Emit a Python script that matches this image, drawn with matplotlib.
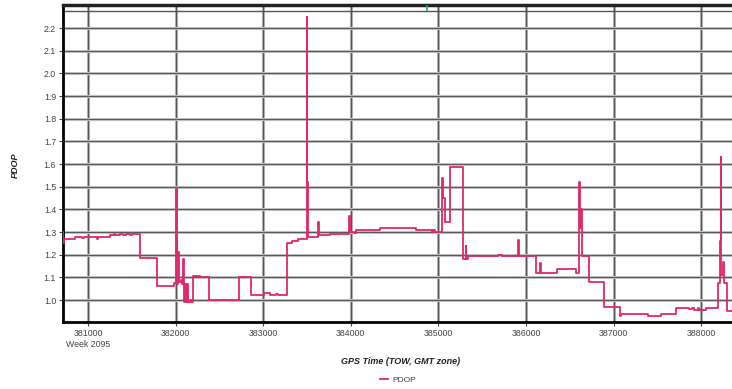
import matplotlib
matplotlib.use("Agg")
import matplotlib.pyplot as plt

# GPS time of week (s) where each PDOP step starts
tow = [380715, 380720, 380726, 380852, 380930, 380960, 381100, 381110, 381251, 381300,
       381310, 381365, 381400, 381430, 381480, 381500, 381594, 381788, 381982, 382000,
       382005, 382016, 382027, 382040, 382060, 382075, 382085, 382096, 382110, 382120,
       382130, 382140, 382160, 382175, 382199, 382279, 382381, 382724, 382861, 383009,
       383078, 383150, 383170, 383272, 383329, 383397, 383500, 383505, 383515, 383626,
       383637, 383763, 383979, 383991, 384040, 384060, 384333, 384744, 384927, 384940,
       384961, 385041, 385055, 385075, 385133, 385281, 385310, 385320, 385338, 385681,
       385726, 385905, 385915, 386115, 386160, 386170, 386354, 386571, 386610, 386620,
       386630, 386640, 386719, 386891, 387073, 387085, 387393, 387541, 387713, 387861,
       387900, 387920, 387960, 387980, 388055, 388192, 388210, 388222, 388232, 388245,
       388260, 388295, 388360]
pdop = [1.30, 1.25, 1.27, 1.28, 1.275, 1.28, 1.27, 1.28, 1.285, 1.29,
        1.285, 1.29, 1.285, 1.29, 1.285, 1.29, 1.185, 1.06, 1.075, 1.15,
        1.49, 1.07, 1.21, 1.08, 1.09, 1.07, 1.18, 0.99, 1.07, 0.99,
        1.07, 0.99, 1.00, 0.99, 1.105, 1.10, 1.00, 1.10, 1.02, 1.03,
        1.02, 1.025, 1.02, 1.25, 1.26, 1.27, 2.25, 1.52, 1.28, 1.345,
        1.285, 1.29, 1.37, 1.30, 1.295, 1.31, 1.32, 1.31, 1.30, 1.31,
        1.30, 1.54, 1.45, 1.345, 1.585, 1.18, 1.24, 1.18, 1.195, 1.20,
        1.195, 1.265, 1.195, 1.12, 1.165, 1.12, 1.135, 1.12, 1.52, 1.32,
        1.40, 1.195, 1.08, 0.97, 0.93, 0.94, 0.93, 0.94, 0.965, 0.96,
        0.965, 0.955, 0.965, 0.955, 0.965, 1.075, 1.26, 1.63, 1.11, 1.17,
        1.075, 0.95, 0.95]

x_ticks = [381000, 382000, 383000, 384000, 385000, 386000, 387000, 388000]
y_ticks = [1.0, 1.1, 1.2, 1.3, 1.4, 1.5, 1.6, 1.7, 1.8, 1.9, 2.0, 2.1, 2.2]
week_label = "Week 2095"
cursor_tow = 384870

line_color = "#e0286a"
font = "Liberation Sans"

fig = plt.figure(figsize=(7.32, 3.89), dpi=100)
ax = fig.add_axes([63 / 732, 1 - 322 / 389, 1 - 63 / 732, 317 / 389])

ax.set_xlim(380715, 388352)
ax.set_ylim(0.903, 2.302)

# grid: soft grey halo with a darker core, like the source screenshot
for t in x_ticks:
    ax.axvline(t, color="#bbbbbb", lw=2.2, zorder=1)
    ax.axvline(t, color="#555555", lw=0.9, zorder=1)
for v in y_ticks:
    ax.axhline(v, color="#c4c4c4", lw=2.2, zorder=1)
    ax.axhline(v, color="#5a5a5a", lw=0.8, zorder=1)
ax.axhline(2.276, color="#555555", lw=1.0, zorder=1)

ax.plot(tow, pdop, drawstyle="steps-post", color=line_color, lw=1.3, zorder=3,
        label="PDOP")

# small green cursor mark on the top frame
ax.plot([cursor_tow, cursor_tow], [2.278, 2.298], color="#20b070", lw=1.2,
        zorder=4, clip_on=False)

ax.spines["right"].set_visible(False)
ax.spines["left"].set_linewidth(2)
ax.spines["bottom"].set_linewidth(2)
ax.spines["top"].set_linewidth(2.5)
ax.spines["top"].set_color("#222222")

ax.set_xticks(x_ticks)
ax.set_xticklabels([str(t) for t in x_ticks])
ax.set_yticks(y_ticks)
ax.set_yticklabels(["%.1f" % v for v in y_ticks])
ax.tick_params(axis="both", labelsize=6.3, colors="#444444", length=3, width=0.8, pad=2)
for lab in ax.get_xticklabels() + ax.get_yticklabels():
    lab.set_fontfamily(font)

ax.text(x_ticks[0], -0.058, week_label, transform=ax.get_xaxis_transform(),
        ha="center", va="top", fontsize=6.3, color="#444444", family=font)

fig.text(15 / 732, 1 - 165 / 389, "PDOP", rotation=90, ha="center", va="center",
         fontsize=6.5, style="italic", weight="bold", color="#222222", family=font)
fig.text(401 / 732, 1 - 362 / 389, "GPS Time (TOW, GMT zone)", ha="center",
         va="center", fontsize=6.5, style="italic", weight="bold", color="#222222",
         family=font)

leg = fig.legend(loc="center", bbox_to_anchor=(398 / 732, 1 - 380 / 389), frameon=False,
                 handlelength=1.0, handletextpad=0.5,
                 prop={"family": font, "size": 6})
for txt in leg.get_texts():
    txt.set_color("#444444")

fig.savefig("out.png", dpi=100)
